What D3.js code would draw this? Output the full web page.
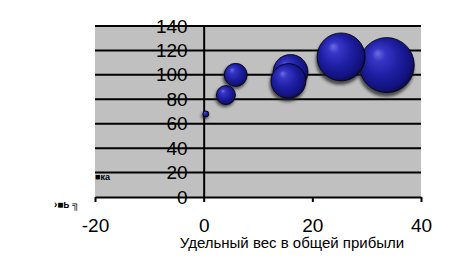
<!DOCTYPE html>
<meta charset="utf-8" />
<style>
  body { margin: 0; background: #fff; }
  text { font-family: "Liberation Sans", Arial, sans-serif; fill: #000; }
</style>
<body>
<svg id="chart" width="449" height="270"></svg>
</body>
<script src="https://d3js.org/d3.v7.min.js"></script>
<script>
  // bubble data
  const shareX = [33.7, 25.3, 16.0, 15.6, 5.9, 4.1, 0.4];
  const valueY = [108, 114.7, 102.4, 95, 100, 83.5, 68];
  const bubbleSize = [100, 76, 40, 40, 17.5, 12, 1.2];

  const xTicks = [-20, 0, 20, 40];
  const yTicks = [0, 20, 40, 60, 80, 100, 120, 140];
  const xTitle = "Удельный вес в общей прибыли";

  const svg = d3.select("#chart");

  // scales
  const x = d3.scaleLinear().domain([-20, 40]).range([95, 421]);
  const y = d3.scaleLinear().domain([0, 140]).range([197, 26]);
  const r = d3.scaleSqrt().domain([0, 100]).range([0, 27.5]);

  // gradient + shadow
  const defs = svg.append("defs");
  const grad = defs.append("radialGradient")
    .attr("id", "ball")
    .attr("cx", "45%").attr("cy", "45%").attr("r", "60%")
    .attr("fx", "33%").attr("fy", "28%");
  grad.append("stop").attr("offset", "0%").attr("stop-color", "#6c6ce4");
  grad.append("stop").attr("offset", "20%").attr("stop-color", "#3636c6");
  grad.append("stop").attr("offset", "55%").attr("stop-color", "#1e1ea2");
  grad.append("stop").attr("offset", "85%").attr("stop-color", "#12127c");
  grad.append("stop").attr("offset", "100%").attr("stop-color", "#08083c");
  defs.append("filter").attr("id", "blur")
    .attr("x", "-50%").attr("y", "-50%").attr("width", "200%").attr("height", "200%")
    .append("feGaussianBlur").attr("stdDeviation", 1.5);

  // plot area
  svg.append("rect")
    .attr("x", x(-20)).attr("y", y(140))
    .attr("width", x(40) - x(-20)).attr("height", y(0) - y(140))
    .attr("fill", "#c0c0c0");

  // gridlines
  svg.append("g").selectAll("line")
    .data(yTicks.filter((d) => d > 0))
    .join("line")
    .attr("x1", x(-20)).attr("x2", x(40))
    .attr("y1", (d) => y(d)).attr("y2", (d) => y(d))
    .attr("stroke", "#000").attr("stroke-width", 2);

  // y axis at x = 0
  const yAxis = svg.append("g")
    .attr("transform", `translate(${x(0)},0)`)
    .call(d3.axisLeft(y).tickValues(yTicks).tickSize(0).tickPadding(16));
  yAxis.select(".domain").attr("stroke", "#000").attr("stroke-width", 2);
  yAxis.selectAll("text").style("font-size", "19px");

  // x axis at y = 0
  const xAxis = svg.append("g")
    .attr("transform", `translate(0,${y(0)})`)
    .call(d3.axisBottom(x).tickValues(xTicks).tickSize(5).tickSizeOuter(0)
      .tickPadding(17).tickFormat((d) => String(d)));
  xAxis.select(".domain").attr("stroke", "#000").attr("stroke-width", 2);
  xAxis.selectAll(".tick line").attr("stroke", "#000").attr("stroke-width", 2);
  xAxis.selectAll("text").style("font-size", "19px");

  svg.append("text")
    .attr("x", 292).attr("y", 248)
    .attr("text-anchor", "middle")
    .style("font-size", "15px")
    .text(xTitle);

  // garbled leftovers of the legend / axis title
  svg.append("text").attr("x", 95).attr("y", 180)
    .style("font-size", "9px").style("font-weight", "bold").text("■ка");
  svg.append("text").attr("x", 54).attr("y", 208)
    .style("font-size", "10px").style("font-weight", "bold").text("›■ь ╗");

  // bubbles
  const data = shareX.map((d, i) => ({ x: d, y: valueY[i], s: bubbleSize[i] }));
  const bub = svg.append("g").selectAll("g")
    .data(data)
    .join("g")
    .attr("transform", (d) => `translate(${x(d.x)},${y(d.y)})`);
  bub.append("circle")
    .attr("cx", -1).attr("cy", (d) => 1.5 + r(d.s) * 0.08)
    .attr("r", (d) => r(d.s) + 0.5)
    .attr("fill", "#222").attr("opacity", 0.75)
    .attr("filter", "url(#blur)");
  bub.append("circle")
    .attr("r", (d) => r(d.s))
    .attr("fill", "url(#ball)")
    .attr("stroke", "#000").attr("stroke-width", 0.8);
</script>
